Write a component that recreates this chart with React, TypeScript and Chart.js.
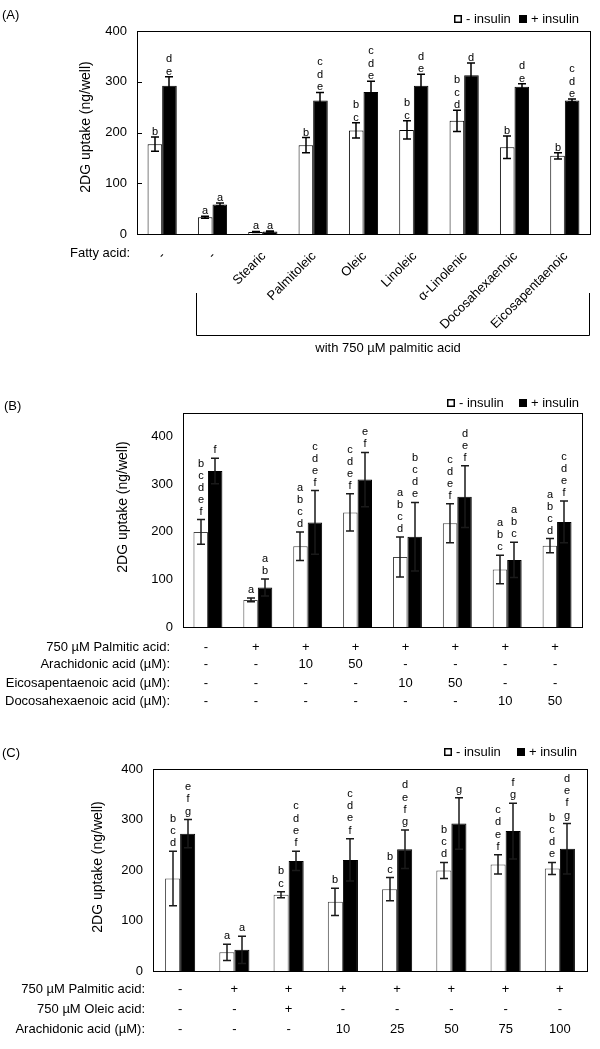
import React, { useEffect, useRef } from "react";
import { Chart, registerables } from "chart.js";

Chart.register(...registerables);

const FONT = '"Liberation Sans", Arial, Helvetica, sans-serif';
Chart.defaults.font.family = FONT;

// ---------- Panel A ----------
const aCategories = ["-", "-", "Stearic", "Palmitoleic", "Oleic", "Linoleic", "α-Linolenic", "Docosahexaenoic", "Eicosapentaenoic"];
const aMinus = [177, 33, 4, 175, 204, 205, 223, 171, 154];
const aMinusErr = [14, 2, 1, 15, 15, 18, 21, 22, 6];
const aPlus = [292, 58, 5, 263, 280, 292, 313, 290, 263];
const aPlusErr = [18, 3, 1, 16, 21, 23, 24, 6, 3];
const aMinusLetters = ["b", "a", "a", "b", "bc", "bc", "bcd", "b", "b"];
const aPlusLetters = ["de", "a", "a", "cde", "cde", "de", "d", "de", "cde"];

// ---------- Panel B ----------
const bCategories = ["1", "2", "3", "4", "5", "6", "7", "8"];
const bMinus = [200, 57, 170, 241, 147, 218, 121, 171];
const bMinusErr = [26, 4, 30, 39, 42, 41, 30, 15];
const bPlus = [328, 83, 220, 310, 190, 274, 141, 221];
const bPlusErr = [27, 18, 67, 57, 72, 65, 37, 44];
const bMinusLetters = ["bcdef", "a", "abcd", "cdef", "abcd", "cdef", "abc", "abcd"];
const bPlusLetters = ["f", "ab", "cdef", "ef", "bcde", "def", "abc", "cdef"];
const bRowLabels = ["750 µM Palmitic acid:", "Arachidonic acid (µM):", "Eicosapentaenoic acid (µM):", "Docosahexaenoic acid (µM):"];
const bRow1 = ["-", "+", "+", "+", "+", "+", "+", "+"];
const bRow2 = ["-", "-", "10", "50", "-", "-", "-", "-"];
const bRow3 = ["-", "-", "-", "-", "10", "50", "-", "-"];
const bRow4 = ["-", "-", "-", "-", "-", "-", "10", "50"];

// ---------- Panel C ----------
const cCategories = ["1", "2", "3", "4", "5", "6", "7", "8"];
const cMinus = [183, 37, 151, 137, 162, 199, 211, 203];
const cMinusErr = [54, 16, 6, 27, 23, 16, 19, 12];
const cPlus = [272, 42, 218, 220, 241, 292, 277, 242];
const cPlusErr = [28, 27, 19, 42, 38, 51, 55, 50];
const cMinusLetters = ["bcd", "a", "bc", "b", "bc", "bcd", "cdef", "bcde"];
const cPlusLetters = ["efg", "a", "cdef", "cdef", "defg", "g", "fg", "defg"];
const cRowLabels = ["750 µM Palmitic acid:", "750 µM Oleic acid:", "Arachidonic acid (µM):"];
const cRow1 = ["-", "+", "+", "+", "+", "+", "+", "+"];
const cRow2 = ["-", "-", "+", "-", "-", "-", "-", "-"];
const cRow3 = ["-", "-", "-", "10", "25", "50", "75", "100"];

const yTitle = "2DG uptake (ng/well)";
const legendMinus = "- insulin";
const legendPlus = "+ insulin";

type Area = { left: number; right: number; top: number; bottom: number };
type Panel = {
  top: number;
  height: number;
  area: Area;
  yMax: number;
  catPct: number;
  labels: string[];
  minus: number[];
  minusErr: number[];
  plus: number[];
  plusErr: number[];
  minusLetters: string[];
  plusLetters: string[];
  letterGap: number;
  letterLine: number;
  whiteBorder: string;
  errColor: string;
  panelLabel: string;
  panelLabelPos: [number, number];
  legend: { y: number; wx: number; wt: number; bx: number; bt: number };
  title: [number, number];
  innerTicks: boolean;
  extra: (ctx: CanvasRenderingContext2D, chart: any) => void;
};

function txt(ctx: CanvasRenderingContext2D, s: string, x: number, y: number, align: CanvasTextAlign, size = 13) {
  ctx.font = `${size}px ${FONT}`;
  ctx.fillStyle = "#000";
  ctx.textAlign = align;
  ctx.textBaseline = "middle";
  ctx.fillText(s, x, y);
}

const panelA: Panel = {
  top: 0,
  height: 375,
  area: { left: 137, right: 590, top: 31, bottom: 234 },
  yMax: 400,
  catPct: 0.58,
  labels: aCategories,
  minus: aMinus,
  minusErr: aMinusErr,
  plus: aPlus,
  plusErr: aPlusErr,
  minusLetters: aMinusLetters,
  plusLetters: aPlusLetters,
  letterGap: 2,
  letterLine: 12.5,
  whiteBorder: "#000",
  errColor: "#000",
  panelLabel: "(A)",
  panelLabelPos: [2, 15],
  legend: { y: 19, wx: 454, wt: 466, bx: 519, bt: 531 },
  title: [86, 127],
  innerTicks: true,
  extra: (ctx, chart) => {
    const xs = chart.scales.x;
    txt(ctx, "Fatty acid:", 130, 253, "right");
    aCategories.forEach((lab, i) => {
      const cx = xs.getPixelForValue(i);
      ctx.save();
      ctx.translate(cx + 1, 254);
      ctx.rotate(-Math.PI / 4);
      txt(ctx, lab, 0, 0, "right");
      ctx.restore();
    });
    // bracket
    ctx.strokeStyle = "#000";
    ctx.lineWidth = 1;
    ctx.beginPath();
    ctx.moveTo(196.5, 293);
    ctx.lineTo(196.5, 335.5);
    ctx.lineTo(589.5, 335.5);
    ctx.lineTo(589.5, 293);
    ctx.stroke();
    txt(ctx, "with 750 µM palmitic acid", 388, 348, "center");
  },
};

const panelB: Panel = {
  top: 375,
  height: 350,
  area: { left: 183, right: 582, top: 38, bottom: 252 },
  yMax: 450,
  catPct: 0.58,
  labels: bCategories,
  minus: bMinus,
  minusErr: bMinusErr,
  plus: bPlus,
  plusErr: bPlusErr,
  minusLetters: bMinusLetters,
  plusLetters: bPlusLetters,
  letterGap: 5,
  letterLine: 12,
  whiteBorder: "#444",
  errColor: "#1a1a1a",
  panelLabel: "(B)",
  panelLabelPos: [4, 31],
  legend: { y: 28, wx: 447, wt: 459, bx: 519, bt: 531 },
  title: [123, 132],
  innerTicks: false,
  extra: (ctx, chart) => {
    const xs = chart.scales.x;
    const rows = [bRow1, bRow2, bRow3, bRow4];
    const ys = [272, 289, 308, 326];
    rows.forEach((row, r) => {
      txt(ctx, bRowLabels[r], 170, ys[r], "right");
      row.forEach((v, i) => txt(ctx, v, xs.getPixelForValue(i) - 2, ys[r], "center"));
    });
  },
};

const panelC: Panel = {
  top: 725,
  height: 324,
  area: { left: 153, right: 587, top: 44, bottom: 246 },
  yMax: 400,
  catPct: 0.555,
  labels: cCategories,
  minus: cMinus,
  minusErr: cMinusErr,
  plus: cPlus,
  plusErr: cPlusErr,
  minusLetters: cMinusLetters,
  plusLetters: cPlusLetters,
  letterGap: 5,
  letterLine: 12.3,
  whiteBorder: "#444",
  errColor: "#1a1a1a",
  panelLabel: "(C)",
  panelLabelPos: [2, 28],
  legend: { y: 27, wx: 444, wt: 456, bx: 517, bt: 529 },
  title: [98, 142],
  innerTicks: false,
  extra: (ctx, chart) => {
    const xs = chart.scales.x;
    const rows = [cRow1, cRow2, cRow3];
    const ys = [264, 284, 304];
    rows.forEach((row, r) => {
      txt(ctx, cRowLabels[r], 145, ys[r], "right");
      row.forEach((v, i) => txt(ctx, v, xs.getPixelForValue(i), ys[r], "center"));
    });
  },
};

function buildConfig(p: Panel): any {
  const W = 600;
  const overlay = {
    id: "overlay",
    afterDatasetsDraw(chart: any) {
      const ctx: CanvasRenderingContext2D = chart.ctx;
      const ys = chart.scales.y;
      const sets = [
        { vals: p.minus, errs: p.minusErr, letters: p.minusLetters },
        { vals: p.plus, errs: p.plusErr, letters: p.plusLetters },
      ];
      sets.forEach((s, di) => {
        const meta = chart.getDatasetMeta(di);
        s.vals.forEach((v, i) => {
          const bar = meta.data[i];
          const x = Math.round(bar.x);
          const yTop = ys.getPixelForValue(v + s.errs[i]);
          const yBot = ys.getPixelForValue(Math.max(0, v - s.errs[i]));
          ctx.save();
          ctx.strokeStyle = p.errColor;
          ctx.lineWidth = 1.5;
          ctx.beginPath();
          ctx.moveTo(x, yTop);
          ctx.lineTo(x, yBot);
          ctx.moveTo(x - 4, yTop);
          ctx.lineTo(x + 4, yTop);
          ctx.moveTo(x - 4, yBot);
          ctx.lineTo(x + 4, yBot);
          ctx.stroke();
          const letters = s.letters[i].split("");
          const n = letters.length;
          ctx.font = `11px ${FONT}`;
          ctx.fillStyle = "#000";
          ctx.textAlign = "center";
          ctx.textBaseline = "alphabetic";
          letters.forEach((L, k) => {
            const yy = yTop - p.letterGap - (n - 1 - k) * p.letterLine;
            ctx.fillText(L, x, yy);
          });
          ctx.restore();
        });
      });
    },
    afterDraw(chart: any) {
      const ctx: CanvasRenderingContext2D = chart.ctx;
      const a = chart.chartArea;
      ctx.save();
      ctx.strokeStyle = "#000";
      ctx.lineWidth = 1;
      ctx.strokeRect(Math.round(a.left) + 0.5, Math.round(a.top) + 0.5, Math.round(a.right - a.left), Math.round(a.bottom - a.top));
      if (p.innerTicks) {
        const ys = chart.scales.y;
        ys.ticks.forEach((t: any) => {
          const y = Math.round(ys.getPixelForValue(t.value)) + 0.5;
          ctx.beginPath();
          ctx.moveTo(a.left, y);
          ctx.lineTo(a.left + 5, y);
          ctx.stroke();
        });
      }
      txt(ctx, p.panelLabel, p.panelLabelPos[0], p.panelLabelPos[1], "left");
      const L = p.legend;
      ctx.fillStyle = "#fff";
      ctx.fillRect(L.wx, L.y - 4, 8, 8);
      ctx.strokeStyle = "#000";
      ctx.lineWidth = 1.5;
      ctx.strokeRect(L.wx + 0.75, L.y - 3.25, 6.5, 6.5);
      txt(ctx, legendMinus, L.wt, L.y, "left");
      ctx.fillStyle = "#000";
      ctx.fillRect(L.bx, L.y - 4, 8, 8);
      txt(ctx, legendPlus, L.bt, L.y, "left");
      ctx.save();
      ctx.translate(p.title[0], p.title[1]);
      ctx.rotate(-Math.PI / 2);
      txt(ctx, yTitle, 0, 0, "center", 14);
      ctx.restore();
      p.extra(ctx, chart);
      ctx.restore();
    },
  };

  return {
    type: "bar",
    data: {
      labels: p.labels,
      datasets: [
        {
          label: legendMinus,
          data: p.minus,
          backgroundColor: "#ffffff",
          borderColor: p.whiteBorder,
          borderWidth: 1,
          categoryPercentage: p.catPct,
          barPercentage: 1,
        },
        {
          label: legendPlus,
          data: p.plus,
          backgroundColor: "#000000",
          borderColor: "#000000",
          borderWidth: 1,
          categoryPercentage: p.catPct,
          barPercentage: 1,
        },
      ],
    },
    options: {
      responsive: false,
      animation: false,
      devicePixelRatio: 1,
      events: [],
      layout: { padding: { left: 0, right: W - p.area.right, top: p.area.top, bottom: 0 } },
      plugins: { legend: { display: false }, tooltip: { enabled: false }, title: { display: false } },
      scales: {
        x: {
          grid: { display: false, drawTicks: false },
          border: { display: false },
          ticks: { display: false },
          afterFit: (scale: any) => {
            scale.height = p.height - p.area.bottom;
          },
        },
        y: {
          min: 0,
          max: p.yMax,
          grid: { display: false, drawTicks: false },
          border: { display: false },
          ticks: {
            stepSize: 100,
            includeBounds: false,
            color: "#000",
            padding: 10,
            font: { size: 13, family: FONT },
          },
          afterFit: (scale: any) => {
            scale.width = p.area.left;
          },
        },
      },
    },
    plugins: [overlay],
  };
}

function PanelChart({ p }: { p: Panel }) {
  const ref = useRef<HTMLCanvasElement | null>(null);
  useEffect(() => {
    if (!ref.current) return;
    const chart = new Chart(ref.current, buildConfig(p));
    return () => chart.destroy();
  }, [p]);
  return (
    <canvas
      ref={ref}
      width={600}
      height={p.height}
      style={{ position: "absolute", left: 0, top: p.top, width: 600, height: p.height, display: "block" }}
    />
  );
}

export default function App() {
  return (
    <div style={{ position: "absolute", left: 0, top: 0, width: 600, height: 1049, background: "#fff" }}>
      <PanelChart p={panelA} />
      <PanelChart p={panelB} />
      <PanelChart p={panelC} />
    </div>
  );
}
